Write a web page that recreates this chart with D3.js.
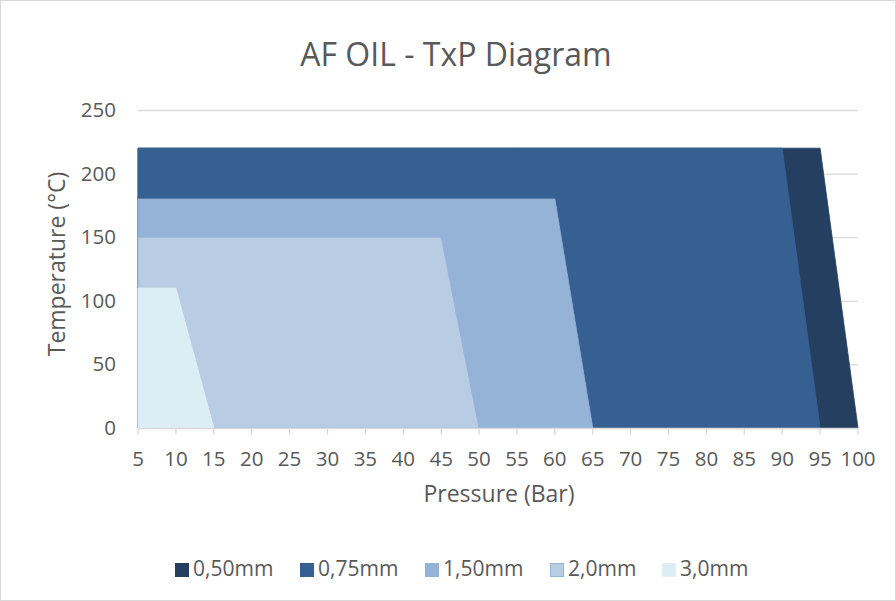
<!DOCTYPE html>
<html>
<head>
<meta charset="utf-8">
<script src="https://cdn.jsdelivr.net/npm/d3@7"></script>
<style>
  body { margin: 0; background: #fff; }
  svg text { font-family: "Open Sans", sans-serif; fill: #595959; }
</style>
</head>
<body>
<div id="chart"></div>
<script>
// pressure categories (Bar)
const pressures = [5, 10, 15, 20, 25, 30, 35, 40, 45, 50, 55, 60, 65, 70, 75, 80, 85, 90, 95, 100];
const seriesNames = ["0,50mm", "0,75mm", "1,50mm", "2,0mm", "3,0mm"];
const seriesColors = ["#243f60", "#366092", "#95b3d7", "#b8cce4", "#dbeef4"];
const seriesStrokes = ["#243f60", "#366092", "#95b3d7", "#95b3d7", "#e3eef5"];
// max temperature (°C) per pressure, null = no value
const s050 = [220, 220, 220, 220, 220, 220, 220, 220, 220, 220, 220, 220, 220, 220, 220, 220, 220, 220, 220, 0];
const s075 = [220, 220, 220, 220, 220, 220, 220, 220, 220, 220, 220, 220, 220, 220, 220, 220, 220, 220, 0, null];
const s150 = [180, 180, 180, 180, 180, 180, 180, 180, 180, 180, 180, 180, 0, null, null, null, null, null, null, null];
const s20 = [150, 150, 150, 150, 150, 150, 150, 150, 150, 0, null, null, null, null, null, null, null, null, null, null];
const s30 = [110, 110, 0, null, null, null, null, null, null, null, null, null, null, null, null, null, null, null, null, null];
const seriesValues = [s050, s075, s150, s20, s30];
const yTicks = [0, 50, 100, 150, 200, 250];

const width = 896, height = 601;
const margin = { left: 138, right: 38, top: 110, bottom: 173 };

const svg = d3.select("#chart").append("svg")
  .attr("width", width).attr("height", height);

svg.append("rect")
  .attr("x", 0.5).attr("y", 0.5)
  .attr("width", width - 1).attr("height", height - 1)
  .attr("fill", "#fff").attr("stroke", "#d9d9d9");

const x = d3.scalePoint().domain(pressures)
  .range([margin.left, width - margin.right]);
const y = d3.scaleLinear().domain([0, 250])
  .range([height - margin.bottom, margin.top]);

// gridlines
svg.append("g")
  .selectAll("line")
  .data(yTicks.filter(d => d > 0))
  .enter().append("line")
  .attr("x1", margin.left).attr("x2", width - margin.right)
  .attr("y1", d => y(d) + 0.5).attr("y2", d => y(d) + 0.5)
  .attr("stroke", "#d9d9d9").attr("stroke-width", 1.3);

// areas
const area = d3.area()
  .defined(d => d.v !== null)
  .x(d => x(d.p))
  .y0(y(0))
  .y1(d => y(d.v));

seriesValues.forEach((vals, i) => {
  const pts = pressures.map((p, j) => ({ p: p, v: vals[j] }));
  svg.append("path")
    .datum(pts)
    .attr("d", area)
    .attr("fill", seriesColors[i])
    .attr("stroke", seriesStrokes[i])
    .attr("stroke-width", 0.8);
});

// x axis line + ticks
const axisY = y(0) + 0.5;
svg.append("line")
  .attr("x1", margin.left).attr("x2", width - margin.right)
  .attr("y1", axisY).attr("y2", axisY)
  .attr("stroke", "#d9d9d9").attr("stroke-width", 1.3);
svg.append("g")
  .selectAll("line")
  .data(pressures)
  .enter().append("line")
  .attr("x1", d => x(d)).attr("x2", d => x(d))
  .attr("y1", axisY).attr("y2", axisY + 6)
  .attr("stroke", "#d9d9d9").attr("stroke-width", 1.3);

svg.append("g")
  .selectAll("text")
  .data(pressures)
  .enter().append("text")
  .attr("x", d => x(d)).attr("y", 466)
  .attr("text-anchor", "middle")
  .attr("font-size", "20.5px")
  .text(d => d);

svg.append("g")
  .selectAll("text")
  .data(yTicks)
  .enter().append("text")
  .attr("x", 116).attr("y", d => y(d) + 7)
  .attr("text-anchor", "end")
  .attr("font-size", "20.5px")
  .text(d => d);

// titles
svg.append("text")
  .attr("x", 456).attr("y", 66)
  .attr("text-anchor", "middle")
  .attr("font-size", "32px")
  .text("AF OIL - TxP Diagram");

svg.append("text")
  .attr("x", 499).attr("y", 502)
  .attr("text-anchor", "middle")
  .attr("font-size", "23px")
  .text("Pressure (Bar)");

svg.append("text")
  .attr("transform", "translate(65,264) rotate(-90)")
  .attr("text-anchor", "middle")
  .attr("font-size", "23px")
  .text("Temperature (°C)");

// legend
const legendX = [175, 300, 425, 550, 662];
const lg = svg.append("g")
  .selectAll("g")
  .data(seriesNames)
  .enter().append("g")
  .attr("transform", (d, i) => `translate(${legendX[i]},563)`);
lg.append("rect")
  .attr("x", 0.5).attr("y", 0.5)
  .attr("width", 13).attr("height", 13)
  .attr("fill", (d, i) => seriesColors[i])
  .attr("stroke", (d, i) => seriesStrokes[i]);
lg.append("text")
  .attr("x", 18).attr("y", 13)
  .attr("font-size", "21px")
  .text(d => d);
</script>
</body>
</html>
